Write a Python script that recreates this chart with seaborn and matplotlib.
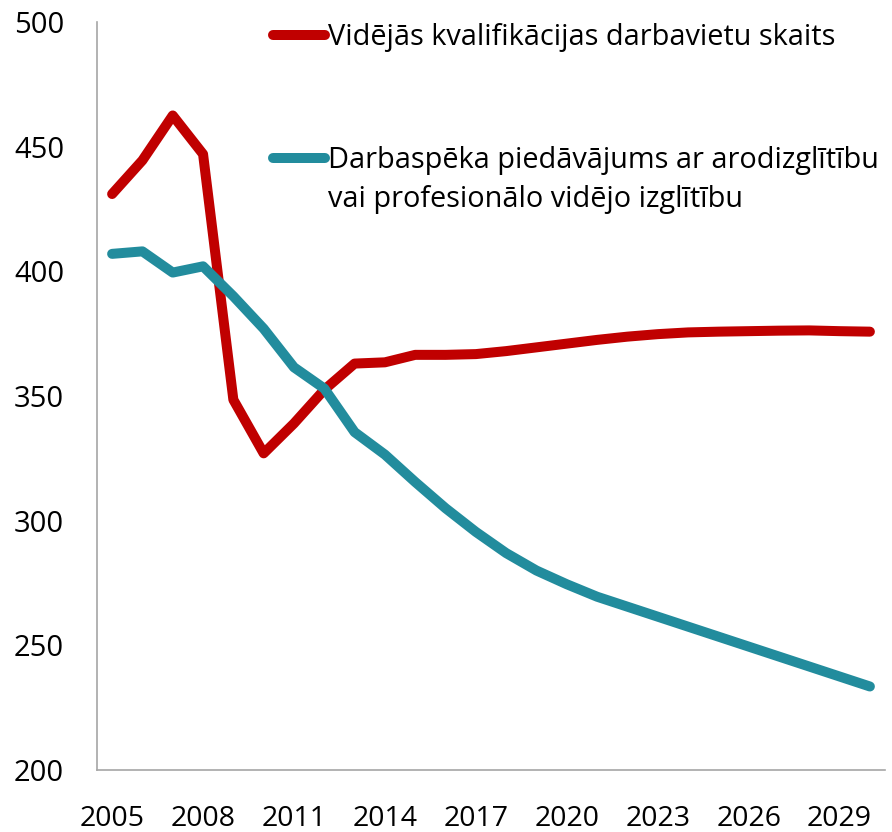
import numpy as np
import pandas as pd
import seaborn as sns
import matplotlib.pyplot as plt
from matplotlib.ticker import FixedLocator, NullFormatter

# Data
years = list(range(2005, 2031))
jobs_mid = [431, 444.5, 462.5, 447, 348.5, 327, 339, 352.5, 363, 363.5, 366.5, 366.5,
            366.8, 368, 369.5, 371, 372.5, 373.8, 374.8, 375.5, 375.8, 376, 376.2, 376.3,
            376, 375.8]
supply_voc = [407, 408, 399.5, 402, 390, 377, 361.5, 353, 335.5, 326.5, 315.5, 305,
              295.5, 287, 280, 274.5, 269.5, 265.5, 261.5, 257.5, 253.5, 249.5, 245.5,
              241.5, 237.5, 233.5]

label_jobs = "Vidējās kvalifikācijas darbavietu skaits"
label_supply = ["Darbaspēka piedāvājums ar arodizglītību",
                "vai profesionālo vidējo izglītību"]

df = pd.DataFrame({"year": years * 2,
                   "value": jobs_mid + supply_voc,
                   "series": [label_jobs] * len(years) + [label_supply[0]] * len(years)})

sns.set_style("white")
plt.rcParams['font.family'] = ['Open Sans', 'DejaVu Sans']
plt.rcParams['text.color'] = 'black'

fig = plt.figure(figsize=(8.92, 8.32), dpi=100)
ax = fig.add_axes([0.1087, 0.0745, 0.8835, 0.8991])

palette = {label_jobs: "#C00000", label_supply[0]: "#228C9D"}
sns.lineplot(data=df, x="year", y="value", hue="series", palette=palette,
             linewidth=7.2, ax=ax, legend=True)
for ln in ax.get_lines():
    ln.set_solid_capstyle("round")
    ln.set_solid_joinstyle("round")

ax.set_xlim(2004.5, 2030.5)
ax.set_ylim(200, 500)
ax.set_yticks(np.arange(200, 501, 50))
ax.set_xticks(list(range(2005, 2030, 3)))
ax.xaxis.set_minor_locator(FixedLocator(np.arange(2004.5, 2031, 1)))
ax.xaxis.set_minor_formatter(NullFormatter())
ax.tick_params(axis="x", which="major", length=0, pad=25, labelsize=20.5, labelcolor="black")
ax.tick_params(axis="x", which="minor", length=8.6, color="#A6A6A6", width=1.2, direction="out")
ax.tick_params(axis="y", length=8.6, color="#A6A6A6", width=1.2, labelsize=21, pad=15,
               direction="out", labelcolor="black")
ax.set_xlabel("")
ax.set_ylabel("")

for side in ["top", "right"]:
    ax.spines[side].set_visible(False)
for side in ["left", "bottom"]:
    ax.spines[side].set_color("#A6A6A6")
    ax.spines[side].set_linewidth(1.2)

fs = 20.8
leg = ax.legend(loc="upper left", bbox_to_anchor=(0.2086, 1.0134), frameon=False,
                fontsize=fs, handlelength=1.8, handletextpad=0.1,
                labelspacing=3.25, borderaxespad=0)
for ln in leg.get_lines():
    ln.set_linewidth(7.2)
    ln.set_solid_capstyle("round")

# second line of the supply label, placed under the legend entry
fig.canvas.draw()
bb = leg.get_texts()[1].get_window_extent().transformed(ax.transAxes.inverted())
ax.text(bb.x0, bb.y0 - 0.052, label_supply[1], fontsize=fs, color="black",
        transform=ax.transAxes, ha="left", va="bottom")

fig.savefig("out.png", dpi=100)
